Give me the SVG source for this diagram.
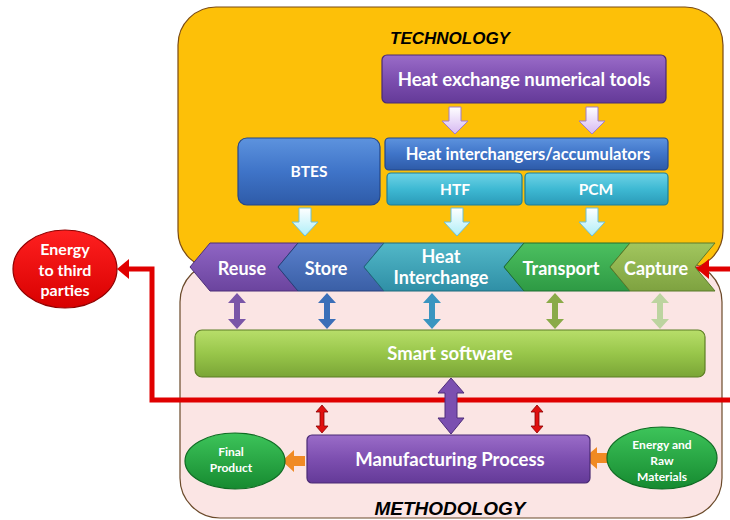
<svg xmlns="http://www.w3.org/2000/svg" width="730" height="520" viewBox="0 0 730 520">
<defs>
<linearGradient id="gPurple" x1="0" y1="0" x2="0" y2="1"><stop offset="0" stop-color="#9a6cc8"/><stop offset="0.5" stop-color="#7d4fb0"/><stop offset="1" stop-color="#643a98"/></linearGradient>
<linearGradient id="gBlue" x1="0" y1="0" x2="0" y2="1"><stop offset="0" stop-color="#5d93de"/><stop offset="0.5" stop-color="#3f74c8"/><stop offset="1" stop-color="#2e5ba8"/></linearGradient>
<linearGradient id="gCyan" x1="0" y1="0" x2="0" y2="1"><stop offset="0" stop-color="#6fd3e6"/><stop offset="0.5" stop-color="#3eb9d3"/><stop offset="1" stop-color="#2a9ab8"/></linearGradient>
<linearGradient id="gSmart" x1="0" y1="0" x2="0" y2="1"><stop offset="0" stop-color="#b8de6a"/><stop offset="0.5" stop-color="#98c64a"/><stop offset="1" stop-color="#7aa536"/></linearGradient>
<linearGradient id="gGreen" x1="0" y1="0" x2="0" y2="1"><stop offset="0" stop-color="#3dc45a"/><stop offset="1" stop-color="#168a30"/></linearGradient>
<linearGradient id="gRed" x1="0" y1="0" x2="0" y2="1"><stop offset="0" stop-color="#ff2020"/><stop offset="1" stop-color="#d80000"/></linearGradient>
<linearGradient id="gReuse" x1="0" y1="0" x2="0" y2="1"><stop offset="0" stop-color="#8f65c4"/><stop offset="1" stop-color="#6b449e"/></linearGradient>
<linearGradient id="gStore" x1="0" y1="0" x2="0" y2="1"><stop offset="0" stop-color="#5a80cc"/><stop offset="1" stop-color="#3a5fa6"/></linearGradient>
<linearGradient id="gHI" x1="0" y1="0" x2="0" y2="1"><stop offset="0" stop-color="#52b8c8"/><stop offset="1" stop-color="#2f8fa6"/></linearGradient>
<linearGradient id="gTrans" x1="0" y1="0" x2="0" y2="1"><stop offset="0" stop-color="#4cc060"/><stop offset="1" stop-color="#2e9a44"/></linearGradient>
<linearGradient id="gCap" x1="0" y1="0" x2="0" y2="1"><stop offset="0" stop-color="#a2c65e"/><stop offset="1" stop-color="#7ea240"/></linearGradient>
<linearGradient id="gLav" x1="0" y1="0" x2="0" y2="1"><stop offset="0" stop-color="#ffffff"/><stop offset="1" stop-color="#d6b8f2"/></linearGradient>
<linearGradient id="gLcy" x1="0" y1="0" x2="0" y2="1"><stop offset="0" stop-color="#ffffff"/><stop offset="1" stop-color="#aeeef8"/></linearGradient>
</defs>
<style>
.t{font-family:Lato,"Liberation Sans",sans-serif;font-weight:bold;fill:#ffffff;text-anchor:middle}
.title{font-family:"Liberation Sans",Arial,sans-serif;font-weight:bold;font-style:italic;fill:#000;text-anchor:middle}
.box{stroke-width:1.2}
.chev{stroke-width:1}
</style>

<g id="technology">
<rect x="178" y="7" width="545" height="262" rx="38" ry="38" fill="#fdc008" stroke="#7a4a12" stroke-width="1.2"/>
<text class="title" x="450" y="44" font-size="17">TECHNOLOGY</text>
</g>
<g id="methodology">
<rect x="180" y="262" width="542" height="256" rx="40" ry="40" fill="#fbe5e4" stroke="#6b4a2a" stroke-width="1.2"/>
<text class="title" x="450" y="515" font-size="19">METHODOLOGY</text>
</g>

<g id="connectors">
<path d="M730,400 H152 V269 H124" fill="none" stroke="#e00000" stroke-width="5"/>
<path d="M730,269 H704" fill="none" stroke="#e00000" stroke-width="5"/>
<polygon points="117,269 129,259 129,279" fill="#e00000"/>
<polygon points="697,269 709,259 709,279" fill="#e00000"/>
<line x1="300" y1="269" x2="700" y2="269" stroke="#e00000" stroke-width="5"/>
<polygon points="449,107 461,107 461,121 468,121 455,134 442,121 449,121" fill="url(#gLav)" stroke="#a07cc8" stroke-width="1"/>
<polygon points="586,107 598,107 598,121 605,121 592,134 579,121 586,121" fill="url(#gLav)" stroke="#a07cc8" stroke-width="1"/>
<polygon points="299,208 311,208 311,222 318,222 305,236 292,222 299,222" fill="url(#gLcy)" stroke="#6cc0d4" stroke-width="1"/>
<polygon points="451,208 463,208 463,222 470,222 457,236 444,222 451,222" fill="url(#gLcy)" stroke="#6cc0d4" stroke-width="1"/>
<polygon points="586,208 598,208 598,222 605,222 592,236 579,222 586,222" fill="url(#gLcy)" stroke="#6cc0d4" stroke-width="1"/>
<polygon points="237,293 246,303 240,303 240,319 246,319 237,329 228,319 234,319 234,303 228,303" fill="#7a56a8"/>
<polygon points="327,293 336,303 330,303 330,319 336,319 327,329 318,319 324,319 324,303 318,303" fill="#3b6fb8"/>
<polygon points="432,293 441,303 435,303 435,319 441,319 432,329 423,319 429,319 429,303 423,303" fill="#3a95c0"/>
<polygon points="555,293 564,303 558,303 558,319 564,319 555,329 546,319 552,319 552,303 546,303" fill="#8aaa48"/>
<polygon points="660,293 669,303 663,303 663,319 669,319 660,329 651,319 657,319 657,303 651,303" fill="#bcd4a0"/>
<polygon points="451,378 464,393 457,393 457,418 464,418 451,434 438,418 445,418 445,393 438,393" fill="#7b4fb0" stroke="#4e2c7a" stroke-width="1"/>
<polygon points="322,405 328,412 324,412 324,426 328,426 322,433 316,426 320,426 320,412 316,412" fill="#e01010" stroke="#8a0000" stroke-width="0.8"/>
<polygon points="537,405 543,412 539,412 539,426 543,426 537,433 531,426 535,426 535,412 531,412" fill="#e01010" stroke="#8a0000" stroke-width="0.8"/>
<polygon points="305,456 294,456 294,450 282,461 294,472 294,466 305,466" fill="#f08a24"/>
<polygon points="615,453 597,453 597,447 584,458 597,469 597,463 615,463" fill="#f08a24"/>
</g>

<g id="n-tools">
<rect x="382" y="55" width="284" height="48" rx="5" fill="url(#gPurple)" stroke="#4a2a74" class="box"/>
<text class="t" x="524" y="86" font-size="18.5">Heat exchange numerical tools</text>
</g>
<g id="n-btes">
<rect x="238" y="138" width="142" height="67" rx="9" fill="url(#gBlue)" stroke="#23468a" class="box"/>
<text class="t" x="309" y="177" font-size="15.5">BTES</text>
</g>
<g id="n-hia">
<rect x="385" y="138" width="283" height="32" rx="4" fill="url(#gBlue)" stroke="#23468a" class="box"/>
<text class="t" x="528" y="160" font-size="16.5">Heat interchangers/accumulators</text>
</g>
<g id="n-htf">
<rect x="387" y="173" width="135" height="32" rx="4" fill="url(#gCyan)" stroke="#1d7f98" class="box"/>
<text class="t" x="455" y="195" font-size="15.5">HTF</text>
</g>
<g id="n-pcm">
<rect x="525" y="173" width="143" height="32" rx="4" fill="url(#gCyan)" stroke="#1d7f98" class="box"/>
<text class="t" x="596" y="195" font-size="15.5">PCM</text>
</g>

<g id="n-reuse">
<polygon class="chev" points="190,267 210,243 298,243 278,267 298,291 210,291" fill="url(#gReuse)" stroke="#4c2f78"/>
<text class="t" x="242" y="275" font-size="18">Reuse</text>
</g>
<g id="n-store">
<polygon class="chev" points="278,267 298,243 384,243 364,267 384,291 298,291" fill="url(#gStore)" stroke="#263f7a"/>
<text class="t" x="326" y="275" font-size="18">Store</text>
</g>
<g id="n-heatint">
<polygon class="chev" points="364,267 384,243 524,243 504,267 524,291 384,291" fill="url(#gHI)" stroke="#1f6a7c"/>
<text class="t" x="441" y="263" font-size="18">Heat</text>
<text class="t" x="441" y="284" font-size="18">Interchange</text>
</g>
<g id="n-transport">
<polygon class="chev" points="504,267 524,243 630,243 610,267 630,291 524,291" fill="url(#gTrans)" stroke="#1e6e30"/>
<text class="t" x="561" y="275" font-size="18">Transport</text>
</g>
<g id="n-capture">
<polygon class="chev" points="610,267 630,243 715,243 695,267 715,291 630,291" fill="url(#gCap)" stroke="#5a7a2a"/>
<text class="t" x="656" y="275" font-size="18">Capture</text>
</g>

<g id="n-energy3rd">
<ellipse cx="65" cy="269" rx="52" ry="39" fill="url(#gRed)" stroke="#900000" stroke-width="1.2"/>
<text class="t" x="65" y="255" font-size="16">Energy</text>
<text class="t" x="65" y="276" font-size="16">to third</text>
<text class="t" x="65" y="296" font-size="16">parties</text>
</g>

<g id="n-smart">
<rect x="195" y="330" width="510" height="47" rx="7" fill="url(#gSmart)" stroke="#5d7f24" class="box"/>
<text class="t" x="450" y="360" font-size="18.5">Smart software</text>
</g>

<g id="n-manuf">
<rect x="307" y="435" width="283" height="48" rx="5" fill="url(#gPurple)" stroke="#4a2a74" class="box"/>
<text class="t" x="450" y="466" font-size="18.5">Manufacturing Process</text>
</g>
<g id="n-final">
<ellipse cx="235" cy="461" rx="50" ry="28" fill="url(#gGreen)" stroke="#0e6b22" stroke-width="1.2"/>
<text class="t" x="231" y="456" font-size="12">Final</text>
<text class="t" x="231" y="472" font-size="12">Product</text>
</g>
<g id="n-rawmat">
<ellipse cx="662" cy="458" rx="55" ry="31" fill="url(#gGreen)" stroke="#0e6b22" stroke-width="1.2"/>
<text class="t" x="662" y="449" font-size="12">Energy and</text>
<text class="t" x="662" y="465" font-size="12">Raw</text>
<text class="t" x="662" y="481" font-size="12">Materials</text>
</g>
</svg>
